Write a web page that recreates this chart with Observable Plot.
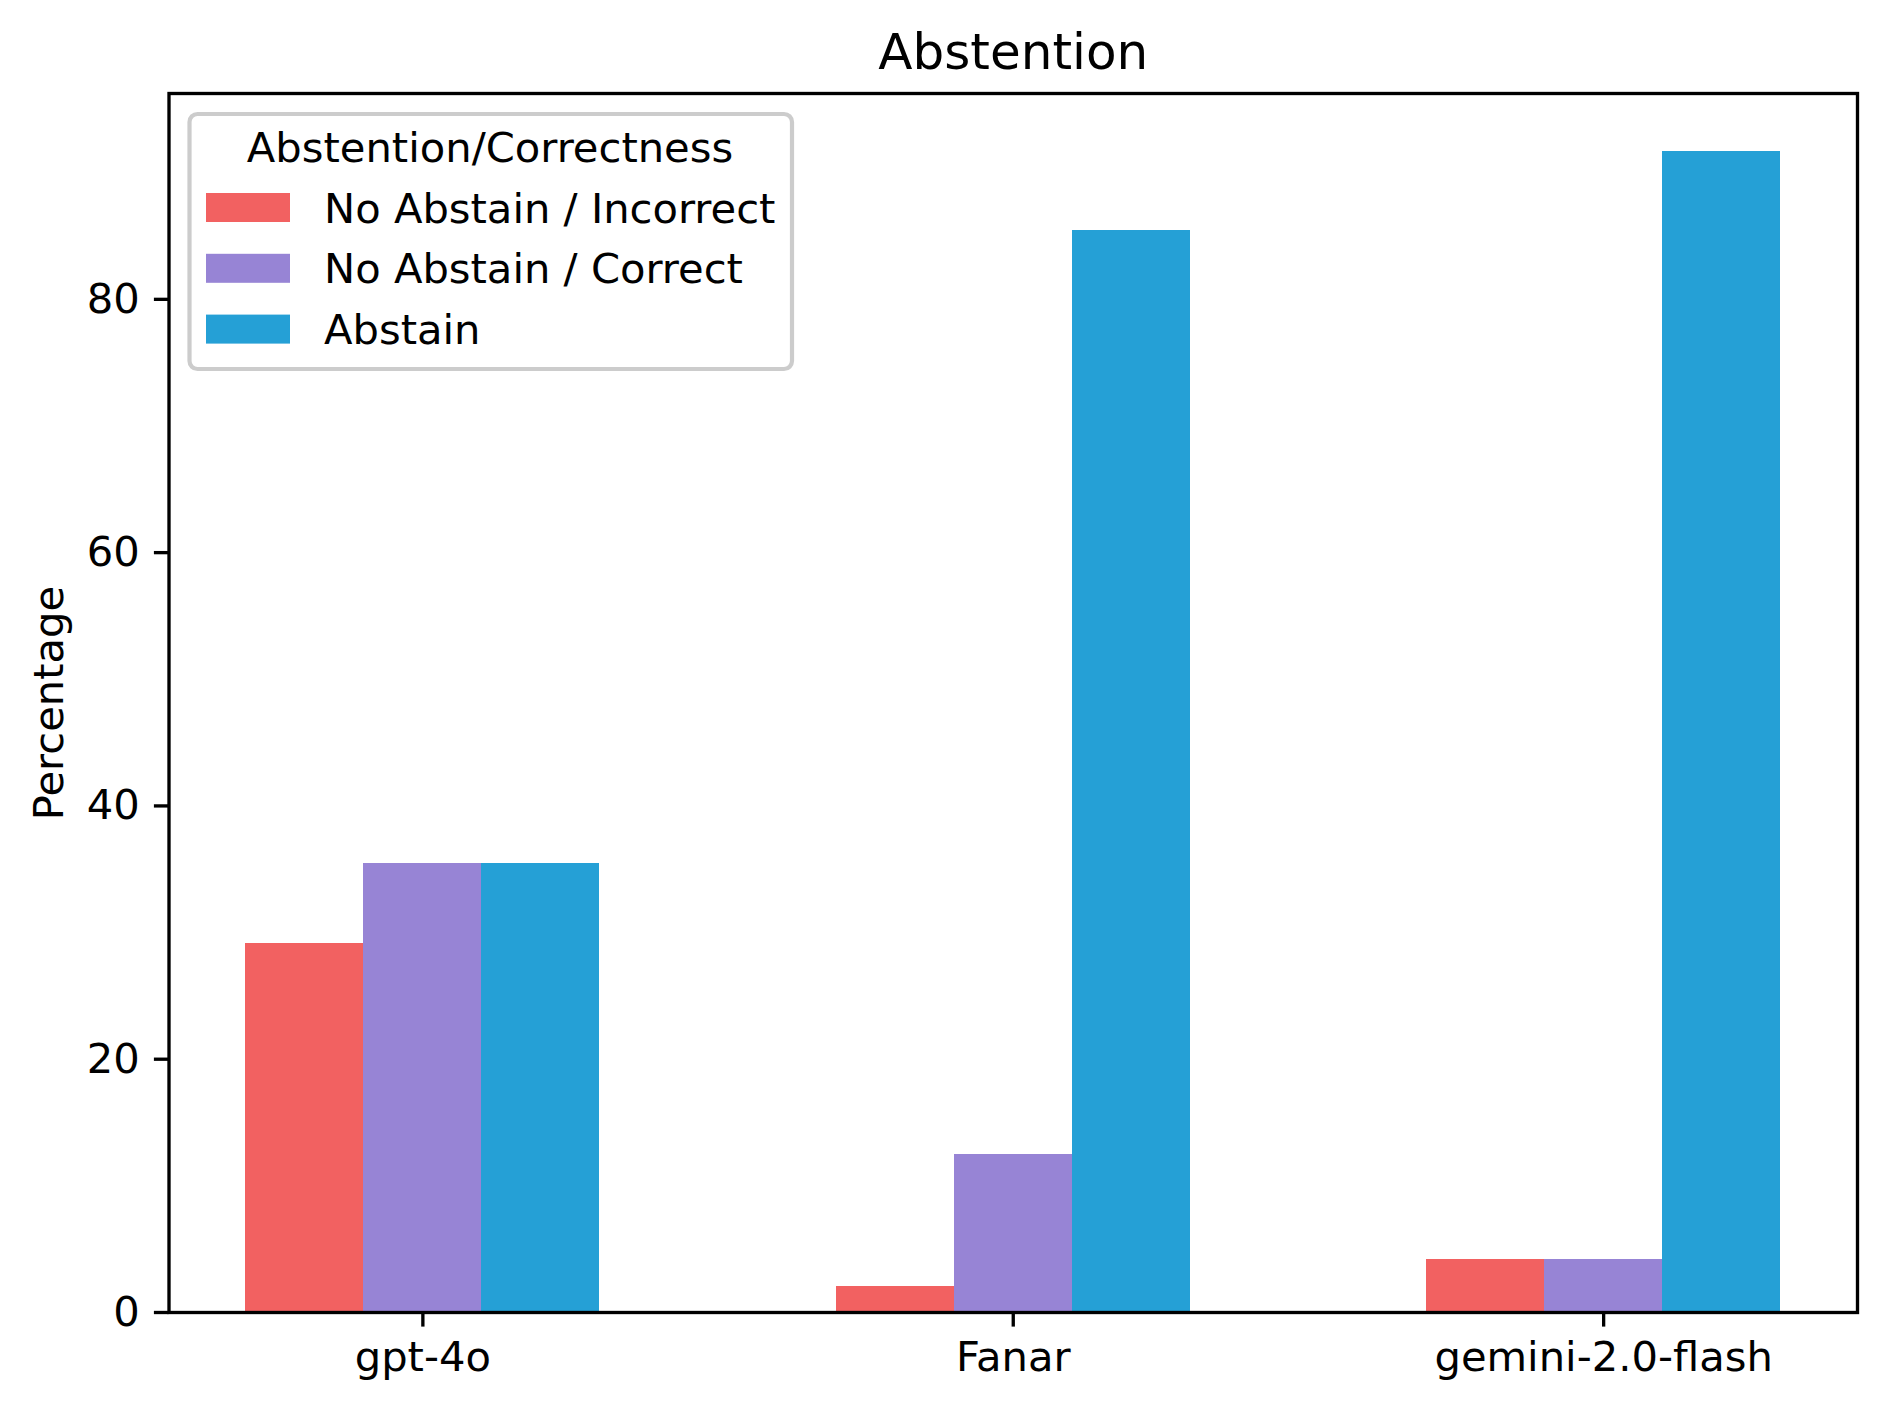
<!DOCTYPE html>
<html><head><meta charset="utf-8">
<script src="https://cdn.jsdelivr.net/npm/d3@7"></script>
<script src="https://cdn.jsdelivr.net/npm/@observablehq/plot@0.6"></script>
<style>html,body{margin:0;padding:0;background:#fff} svg{display:block}</style>
</head><body><div id="chart"></div>
<script>
const models = ["gpt-4o", "Fanar", "gemini-2.0-flash"];
const series = ["No Abstain / Incorrect", "No Abstain / Correct", "Abstain"];
const incorrect = [29.17, 2.08, 4.17];
const correct = [35.42, 12.5, 4.17];
const abstain = [35.42, 85.42, 91.67];
const colors = ["#f26161", "#9784d5", "#25a0d6"];
const yTicks = [0, 20, 40, 60, 80];
const chartTitle = "Abstention";
const yLabel = "Percentage";
const legendTitle = "Abstention/Correctness";

const barWidth = 0.2;
const rows = [];
[incorrect, correct, abstain].forEach((vals, s) =>
  vals.forEach((v, i) => rows.push({model: i, s, series: series[s], value: v})));

const lo = -1.5 * barWidth, hi = models.length - 1 + 1.5 * barWidth;
const pad = 0.05 * (hi - lo);
const ymax = d3.max(rows, d => d.value) * 1.05;

const FS = 41.67, TICK = 14.6, LW = 3.33;
const plot = Plot.plot({
  width: 1887, height: 1410,
  marginLeft: 168.5, marginRight: 30, marginTop: 93, marginBottom: 98,
  style: {fontFamily: "DejaVu Sans", color: "black", background: "white"},
  x: {type: "linear", domain: [lo - pad, hi + pad], axis: null},
  y: {domain: [0, ymax], axis: null},
  color: {domain: series, range: colors},
  marks: [
    Plot.rect(rows, {
      x1: d => d.model + (d.s - 1) * barWidth - barWidth / 2,
      x2: d => d.model + (d.s - 1) * barWidth + barWidth / 2,
      y1: 0, y2: "value", fill: "series", shapeRendering: "crispEdges"
    }),
    Plot.frame({stroke: "black", strokeWidth: LW}),
    Plot.axisY(yTicks, {tickSize: TICK, tickPadding: TICK, fontSize: FS, strokeWidth: LW, label: null}),
    Plot.axisX(models.map((m, i) => i), {tickFormat: i => models[i], tickSize: TICK, tickPadding: TICK, fontSize: FS, strokeWidth: LW, label: null}),
    Plot.text([chartTitle], {frameAnchor: "top", text: d => d, dy: -25, lineAnchor: "bottom", fontSize: 50}),
    Plot.text([yLabel], {frameAnchor: "left", text: d => d, dx: -119.5, rotate: -90, fontSize: FS, textAnchor: "middle"})
  ]
});

const svg = d3.select(plot);
const lg = svg.append("g").attr("font-family", "DejaVu Sans").attr("font-size", FS).attr("fill", "black");
lg.append("rect").attr("x", 189.5).attr("y", 114).attr("width", 602.5).attr("height", 255)
  .attr("rx", 8).attr("fill", "white").attr("fill-opacity", 0.8)
  .attr("stroke", "#cccccc").attr("stroke-width", 4.2);
lg.append("text").attr("x", 490).attr("y", 162).attr("text-anchor", "middle").text(legendTitle);
series.forEach((name, i) => {
  lg.append("rect").attr("x", 206).attr("y", 193 + i * 60.8).attr("width", 84).attr("height", 29).attr("fill", colors[i]);
  lg.append("text").attr("x", 324).attr("y", 223 + i * 60.3).attr("text-anchor", "start").text(name);
});
document.getElementById("chart").appendChild(plot);
</script>
</body></html>
